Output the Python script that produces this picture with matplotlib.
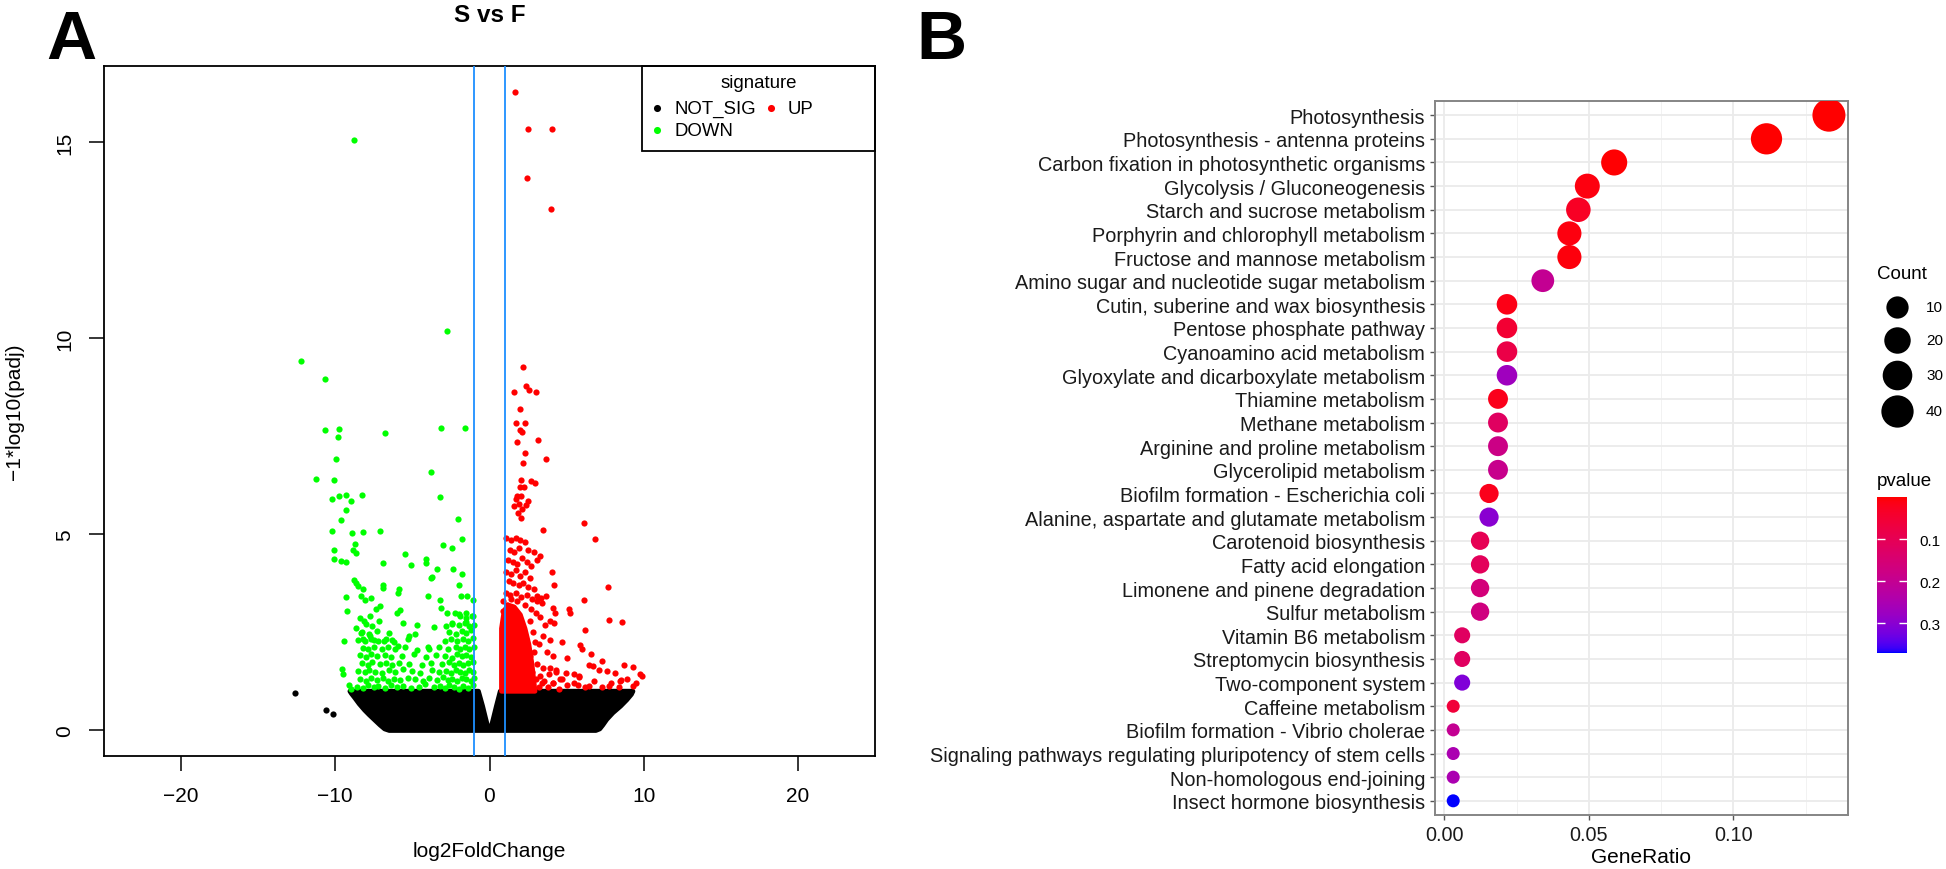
import numpy as np
import matplotlib
matplotlib.use("Agg")
import matplotlib.pyplot as plt
from matplotlib.colors import ListedColormap, Normalize
from matplotlib.patches import Rectangle
from matplotlib.cm import ScalarMappable

plt.rcParams['font.family'] = ['Liberation Sans', 'DejaVu Sans']

W, H = 1946, 870

# ---------------- panel A : volcano (log2FoldChange, -log10(padj)) ----------------
down_points = [
    (-8.81, 15.05), (-2.78, 10.19), (-12.23, 9.42), (-10.64, 8.97),
    (-10.67, 7.66), (-9.77, 7.68), (-9.83, 7.48), (-6.78, 7.60), (-3.16, 7.72), (-1.62, 7.72),
    (-9.94, 6.93), (-11.22, 6.42), (-10.06, 6.38), (-3.80, 6.59),
    (-10.23, 5.91), (-9.74, 5.98), (-9.30, 6.00), (-8.99, 5.85), (-8.26, 6.00), (-9.28, 5.62), (-3.22, 5.95),
    (-9.65, 5.38), (-2.06, 5.40),
    (-10.23, 5.08), (-8.93, 5.04), (-8.20, 5.05), (-7.13, 5.10), (-1.80, 4.89),
    (-8.72, 4.76), (-8.84, 4.60), (-8.64, 4.53), (-10.10, 4.60), (-10.10, 4.38), (-9.65, 4.32), (-9.30, 4.30),
    (-5.45, 4.50), (-3.04, 4.73), (-2.46, 4.66), (-4.09, 4.38), (-4.14, 4.28), (-6.93, 4.28), (-5.10, 4.21),
    (-3.42, 4.12), (-2.35, 4.11), (-3.71, 3.92), (-3.80, 3.88), (-1.80, 3.98),
    (-8.78, 3.85), (-8.64, 3.75), (-8.55, 3.68), (-6.90, 3.70), (-6.92, 3.64), (-5.88, 3.60), (-5.94, 3.51),
    (-1.97, 3.72), (-8.20, 3.60), (-8.35, 3.43), (-8.06, 3.34), (-9.30, 3.41), (-7.71, 3.38), (-4.00, 3.43),
    (-3.22, 3.34), (-1.88, 3.43), (-1.48, 3.43), (-1.04, 3.34),
    (-9.22, 3.04), (-7.33, 3.10), (-7.13, 3.17), (-6.03, 3.00), (-5.83, 3.07), (-3.13, 3.13), (-2.75, 3.00),
    (-2.26, 3.00), (-1.97, 2.96), (-1.54, 3.00), (-1.10, 2.92),
    (-8.12, 2.79), (-7.77, 2.92), (-7.19, 2.79), (-5.59, 2.73), (-4.67, 2.69), (-3.57, 2.64), (-2.84, 2.66),
    (-2.41, 2.73), (-1.54, 2.76), (-8.64, 2.62), (-8.35, 2.49), (-7.77, 2.41), (-8.20, 2.32), (-9.45, 2.28),
    (-7.48, 2.30), (-6.84, 2.28), (-6.32, 2.30), (-5.94, 2.15), (-5.25, 2.42), (-4.81, 2.45), (-4.00, 2.13),
    (-3.91, 2.07), (-9.54, 1.56), (-9.48, 1.43), (-9.13, 1.17), (-9.01, 1.06),
    # dense lower cloud
    (-8.6, 1.12), (-8.2, 1.08), (-7.9, 1.15), (-7.5, 1.10), (-7.2, 1.13), (-6.8, 1.07), (-6.4, 1.16),
    (-6.0, 1.10), (-5.6, 1.14), (-5.1, 1.09), (-4.6, 1.12), (-4.2, 1.18), (-3.6, 1.10), (-3.2, 1.14),
    (-2.9, 1.08), (-2.6, 1.15), (-2.3, 1.11), (-2.0, 1.06), (-1.7, 1.13), (-1.4, 1.09), (-1.1, 1.15),
    (-8.4, 1.31), (-8.0, 1.27), (-7.7, 1.34), (-7.3, 1.29), (-6.9, 1.33), (-6.6, 1.26), (-6.2, 1.32),
    (-5.8, 1.28), (-5.3, 1.35), (-4.8, 1.30), (-4.3, 1.27), (-3.9, 1.33), (-3.4, 1.29), (-3.0, 1.36),
    (-2.7, 1.28), (-2.4, 1.32), (-2.1, 1.27), (-1.8, 1.34), (-1.5, 1.30), (-1.2, 1.26), (-1.0, 1.33),
    (-8.5, 1.52), (-8.1, 1.48), (-7.8, 1.55), (-7.4, 1.50), (-7.0, 1.46), (-6.5, 1.53), (-6.1, 1.49),
    (-5.6, 1.56), (-5.0, 1.51), (-4.5, 1.47), (-3.7, 1.54), (-3.3, 1.49), (-2.8, 1.52), (-2.5, 1.46),
    (-2.2, 1.55), (-1.9, 1.50), (-1.6, 1.47), (-1.3, 1.53), (-1.05, 1.49),
    (-8.3, 1.71), (-7.9, 1.68), (-7.6, 1.74), (-7.1, 1.69), (-6.7, 1.73), (-6.3, 1.67), (-5.9, 1.72),
    (-5.2, 1.70), (-4.4, 1.66), (-3.8, 1.73), (-3.1, 1.69), (-2.6, 1.74), (-2.3, 1.68), (-2.0, 1.72),
    (-1.7, 1.67), (-1.4, 1.71), (-1.1, 1.75),
    (-8.4, 1.92), (-8.0, 1.88), (-7.7, 1.94), (-7.3, 1.89), (-6.8, 1.93), (-6.4, 1.87), (-5.7, 1.91),
    (-4.9, 1.95), (-4.1, 1.88), (-3.5, 1.93), (-2.9, 1.90), (-2.4, 1.86), (-2.1, 1.94), (-1.8, 1.89),
    (-1.5, 1.92), (-1.2, 1.87),
    (-8.2, 2.11), (-7.9, 2.07), (-7.5, 2.13), (-7.0, 2.09), (-6.6, 2.14), (-6.1, 2.08), (-5.5, 2.12),
    (-4.7, 2.06), (-3.3, 2.12), (-2.7, 2.08), (-2.2, 2.14), (-1.9, 2.09), (-1.6, 2.12), (-1.3, 2.07),
    (-1.0, 2.13),
    (-8.5, 2.31), (-8.1, 2.27), (-7.7, 2.34), (-7.2, 2.28), (-6.7, 2.33), (-6.2, 2.26), (-5.3, 2.32),
    (-2.9, 2.29), (-2.5, 2.34), (-2.1, 2.27), (-1.7, 2.32), (-1.4, 2.28), (-1.1, 2.35),
    (-8.3, 2.52), (-7.8, 2.47), (-7.3, 2.54), (-6.5, 2.49), (-2.6, 2.51), (-2.2, 2.46), (-1.8, 2.53),
    (-1.5, 2.48), (-1.2, 2.55),
    (-8.0, 2.71), (-7.6, 2.67), (-2.4, 2.72), (-2.0, 2.68), (-1.6, 2.73), (-1.3, 2.66), (-1.0, 2.70),
    (-8.4, 2.88), (-1.9, 2.91), (-1.5, 2.86), (-1.15, 2.93),
]

up_points = [
    (1.68, 16.29), (2.49, 15.35), (4.03, 15.35), (2.41, 14.10), (4.00, 13.29),
    (2.20, 9.27), (1.62, 8.63), (2.38, 8.78), (2.55, 8.68), (2.99, 8.63), (2.00, 8.19), (1.71, 7.85),
    (2.29, 7.85), (2.00, 7.66), (2.09, 7.62), (1.80, 7.37), (3.13, 7.40),
    (2.32, 7.08), (2.20, 6.83), (3.68, 6.93), (2.03, 6.40), (2.67, 6.36), (2.96, 6.30), (2.00, 6.22),
    (2.26, 6.22), (1.80, 5.98), (2.03, 5.98), (1.71, 5.91), (2.52, 5.85), (1.57, 5.72), (1.94, 5.77),
    (2.38, 5.74), (2.09, 5.64), (1.88, 5.55), (2.03, 5.43), (6.14, 5.28), (6.81, 4.89), (3.48, 5.11),
    (1.1, 4.9), (1.4, 4.85), (1.7, 4.9), (2.0, 4.85), (2.3, 4.8), (1.3, 4.6), (1.6, 4.55), (1.9, 4.65),
    (2.5, 4.6), (2.9, 4.55), (1.2, 4.35), (1.5, 4.3), (1.8, 4.25), (2.1, 4.4), (2.4, 4.3), (2.7, 4.2),
    (3.1, 4.35), (3.3, 4.45), (1.1, 4.05), (1.4, 4.0), (1.7, 4.1), (2.0, 3.95), (2.3, 4.05), (2.6, 3.9),
    (1.25, 3.8), (1.55, 3.75), (1.9, 3.7), (2.2, 3.75), (2.5, 3.65), (2.9, 3.6), (1.05, 3.5), (1.35, 3.45),
    (1.7, 3.5), (2.05, 3.4), (2.4, 3.45), (2.75, 3.35), (3.05, 3.3), (3.4, 3.25), (3.0, 3.0), (3.3, 2.9),
    (3.6, 2.7), (3.5, 2.4), (3.9, 2.3), (3.2, 2.2), (3.7, 2.0), (4.1, 1.9), (3.9, 1.6), (4.3, 1.5),
    (4.6, 1.3), (4.1, 1.2), (3.8, 1.1), (4.5, 1.05), (5.0, 1.15), (5.5, 1.2), (5.8, 1.4), (6.2, 1.1),
    (6.8, 1.25), (7.3, 1.1), (7.9, 1.2), (8.4, 1.1), (8.9, 1.3),
    (4.03, 4.05), (4.20, 3.72), (7.68, 3.66), (3.10, 3.43), (3.33, 3.39), (3.68, 3.43), (6.14, 3.32),
    (4.12, 3.13), (4.26, 3.00), (5.13, 3.10), (5.22, 3.00), (7.74, 2.83), (8.61, 2.76), (3.91, 2.80),
    (4.20, 2.75), (6.20, 2.56), (4.70, 2.25), (5.86, 2.17), (6.00, 2.08), (6.58, 1.96), (5.04, 1.85),
    (7.30, 1.77), (6.43, 1.68), (6.72, 1.64), (8.17, 1.47), (7.65, 1.51), (7.07, 1.54), (8.75, 1.66),
    (9.28, 1.62), (9.77, 1.45), (9.91, 1.40), (4.30, 1.53), (4.96, 1.47), (5.45, 1.43), (5.80, 1.37),
    (3.83, 1.43), (8.55, 1.29), (8.49, 1.25), (9.51, 1.22), (9.30, 1.13), (7.74, 1.13), (6.43, 1.13),
    (5.71, 1.17), (4.70, 1.30), (4.12, 1.22), (3.54, 1.26),
    (2.8, 2.5), (2.6, 2.8), (2.9, 2.0), (3.1, 1.7), (3.3, 1.4), (3.2, 1.1), (3.5, 1.6), (2.7, 3.1),
    (2.3, 3.2), (0.9, 3.3), (1.4, 3.35), (1.8, 3.3), (3.4, 1.2), (3.0, 1.3), (2.95, 2.25), (2.6, 1.9),
    (0.85, 3.05), (1.15, 3.2), (2.75, 1.5),
]
# solid red core just above the cut-off
up_core = [(0.78, 1.0), (0.78, 2.6), (0.95, 3.05), (1.2, 3.2), (1.6, 3.15), (2.0, 2.95), (2.3, 2.6),
           (2.55, 2.2), (2.75, 1.7), (2.95, 1.0)]

ns_points = [(-12.6, 0.96), (-10.58, 0.52), (-10.14, 0.43)]
# outline of the dense NOT_SIG cloud
ns_cloud = [(-9.05, 1.0), (-0.72, 1.0), (-0.45, 0.62), (-0.25, 0.3), (-0.12, 0.1), (0.0, 0.03),
            (0.12, 0.1), (0.25, 0.3), (0.45, 0.62), (0.70, 1.0), (9.3, 1.0), (9.2, 0.92), (8.9, 0.78),
            (8.5, 0.62), (8.0, 0.45), (7.6, 0.28), (7.35, 0.14), (7.15, 0.04), (6.9, 0.0), (-6.5, 0.0),
            (-6.8, 0.04), (-7.1, 0.14), (-7.45, 0.27), (-7.8, 0.4), (-8.1, 0.52), (-8.45, 0.68),
            (-8.75, 0.84), (-8.95, 0.94)]
fc_cut = [-1, 1]

# ---------------- panel B : KEGG enrichment ----------------
pathways = [
    "Photosynthesis", "Photosynthesis - antenna proteins", "Carbon fixation in photosynthetic organisms",
    "Glycolysis / Gluconeogenesis", "Starch and sucrose metabolism", "Porphyrin and chlorophyll metabolism",
    "Fructose and mannose metabolism", "Amino sugar and nucleotide sugar metabolism",
    "Cutin, suberine and wax biosynthesis", "Pentose phosphate pathway", "Cyanoamino acid metabolism",
    "Glyoxylate and dicarboxylate metabolism", "Thiamine metabolism", "Methane metabolism",
    "Arginine and proline metabolism", "Glycerolipid metabolism", "Biofilm formation - Escherichia coli",
    "Alanine, aspartate and glutamate metabolism", "Carotenoid biosynthesis", "Fatty acid elongation",
    "Limonene and pinene degradation", "Sulfur metabolism", "Vitamin B6 metabolism",
    "Streptomycin biosynthesis", "Two-component system", "Caffeine metabolism",
    "Biofilm formation - Vibrio cholerae", "Signaling pathways regulating pluripotency of stem cells",
    "Non-homologous end-joining", "Insect hormone biosynthesis",
]
gene_ratio = [0.1331, 0.1115, 0.0588, 0.0495, 0.0464, 0.0433, 0.0433, 0.0341, 0.0217, 0.0217,
              0.0217, 0.0217, 0.0186, 0.0186, 0.0186, 0.0186, 0.0155, 0.0155, 0.0124, 0.0124,
              0.0124, 0.0124, 0.0062, 0.0062, 0.0062, 0.0031, 0.0031, 0.0031, 0.0031, 0.0031]
counts = [43, 36, 19, 16, 15, 14, 14, 11, 7, 7, 7, 7, 6, 6, 6, 6, 5, 5, 4, 4, 4, 4, 2, 2, 2, 1, 1, 1, 1, 1]
pvalue = [0.0005, 0.001, 0.003, 0.01, 0.03, 0.01, 0.008, 0.2, 0.015, 0.05, 0.08, 0.27, 0.02, 0.12,
          0.18, 0.19, 0.02, 0.3, 0.1, 0.11, 0.16, 0.17, 0.12, 0.12, 0.31, 0.06, 0.2, 0.25, 0.25, 0.37]
count_breaks = [10, 20, 30, 40]
p_breaks = [0.1, 0.2, 0.3]


# red -> blue gradient interpolated in CIELAB (like ggplot's scale_colour_gradient)
M = np.array([[0.4124564, 0.3575761, 0.1804375],
              [0.2126729, 0.7151522, 0.0721750],
              [0.0193339, 0.1191920, 0.9503041]])
WHITE = np.array([0.95047, 1.0, 1.08883])


def to_lab(rgb):
    c = np.asarray(rgb, float)
    lin = np.where(c <= 0.04045, c / 12.92, ((c + 0.055) / 1.055) ** 2.4)
    t = (M @ lin) / WHITE
    f = np.where(t > (6 / 29) ** 3, np.cbrt(t), t / (3 * (6 / 29) ** 2) + 4 / 29)
    return np.array([116 * f[1] - 16, 500 * (f[0] - f[1]), 200 * (f[1] - f[2])])


def from_lab(lab):
    fy = (lab[0] + 16) / 116
    f = np.array([fy + lab[1] / 500, fy, fy - lab[2] / 200])
    t = np.where(f > 6 / 29, f ** 3, 3 * (6 / 29) ** 2 * (f - 4 / 29))
    lin = np.clip(np.linalg.inv(M) @ (t * WHITE), 0, 1)
    c = np.where(lin <= 0.0031308, 12.92 * lin, 1.055 * lin ** (1 / 2.4) - 0.055)
    return np.clip(c, 0, 1)


lab_lo, lab_hi = to_lab([1, 0, 0]), to_lab([0, 0, 1])
cmap = ListedColormap([from_lab((1 - t) * lab_lo + t * lab_hi) for t in np.linspace(0, 1, 256)])
norm = Normalize(min(pvalue), max(pvalue))

cmin, cmax = min(counts), max(counts)


def dot_area(c):
    d_px = 13 + 20 * np.sqrt((np.asarray(c, float) - cmin) / (cmax - cmin))
    return (d_px * 0.72) ** 2


fig = plt.figure(figsize=(W / 100, H / 100), dpi=100)

# ---------------- panel A ----------------
pt = 20
ax = fig.add_axes([104 / W, 1 - 757 / H, (875 - 104) / W, (757 - 67) / H])
ax.fill([p[0] for p in ns_cloud], [p[1] for p in ns_cloud], color='black', lw=3.5, joinstyle='round', zorder=1)
ax.scatter([p[0] for p in ns_points], [p[1] for p in ns_points], s=pt, c='black', lw=0, zorder=2)
ax.scatter([p[0] for p in down_points], [p[1] for p in down_points], s=pt, c='#00ff00', lw=0, zorder=2)
ax.fill([p[0] for p in up_core], [p[1] for p in up_core], color='#ff0000', lw=3.5, joinstyle='round', zorder=2)
ax.scatter([p[0] for p in up_points], [p[1] for p in up_points], s=pt, c='#ff0000', lw=0, zorder=2)
for v in fc_cut:
    ax.axvline(v, color='#1e8fff', lw=1.3, zorder=3)

ax.set_xlim(-25, 25)
ax.set_ylim(-0.652, 16.95)
ax.set_xticks([-20, -10, 0, 10, 20])
ax.set_yticks([0, 5, 10, 15])
ax.tick_params(labelsize=15, length=10.5, width=1.1, pad=11)
plt.setp(ax.get_yticklabels(), rotation=90, va='center')
for s in ax.spines.values():
    s.set_linewidth(1.3)
ax.set_xlabel('log2FoldChange', fontsize=15)
ax.xaxis.set_label_coords(0.5, -(852 - 757) / 690)
ax.xaxis.label.set_va('center')
ax.set_ylabel('\u22121*log10(padj)', fontsize=15)
ax.yaxis.set_label_coords(-(104 - 15) / 771, 0.5)
ax.yaxis.label.set_va('center')

# ---------------- panel B ----------------
n = len(pathways)
ypos = np.arange(n, 0, -1)
axb = fig.add_axes([1435 / W, 1 - 816 / H, 413 / W, 714 / H])
axb.scatter(gene_ratio, ypos, s=dot_area(counts), c=pvalue, cmap=cmap, norm=norm, lw=0, zorder=3)
axb.set_xlim(-0.0032, 0.1397)
axb.set_ylim(0.4, n + 0.6)
axb.set_xticks([0.0, 0.05, 0.10])
axb.set_xticklabels(['0.00', '0.05', '0.10'])
axb.set_xticks([0.025, 0.075, 0.125], minor=True)
axb.set_yticks(ypos)
axb.set_yticklabels(pathways)
axb.grid(which='major', color='#ebebeb', lw=1.3, zorder=0)
axb.grid(which='minor', axis='x', color='#f2f2f2', lw=0.7, zorder=0)
axb.set_axisbelow(True)
axb.tick_params(which='major', labelsize=14.3, length=3.6, width=1.0, color='#555555', pad=3.5,
                labelcolor='#1a1a1a')
axb.tick_params(which='minor', length=0)
for s in axb.spines.values():
    s.set_color('#858585')
    s.set_linewidth(1.4)
axb.set_xlabel('GeneRatio', fontsize=15)
axb.xaxis.set_label_coords(0.5, -(858 - 816) / 714)
axb.xaxis.label.set_va('center')

# pvalue colourbar (small p on top)
cax = fig.add_axes([1877 / W, 1 - 654 / H, 30 / W, 156 / H])
cb = fig.colorbar(ScalarMappable(norm=norm, cmap=cmap), cax=cax, ticks=p_breaks)
cb.outline.set_visible(False)
cax.invert_yaxis()
cax.tick_params(direction='in', color='white', length=6, width=1, left=True, right=True,
                labelsize=11, pad=9)

# ---------------- overlay for titles and legends ----------------
ov = fig.add_axes([0, 0, 1, 1])
ov.set_xlim(0, W)
ov.set_ylim(H, 0)
ov.axis('off')
ov.patch.set_alpha(0)

ov.text(46, 59, 'A', fontsize=50, fontweight='bold', ha='left', va='baseline')
ov.text(916, 59, 'B', fontsize=50, fontweight='bold', ha='left', va='baseline')
ov.text(490, 22, 'S vs F', fontsize=17.5, fontweight='bold', ha='center', va='baseline')

# signature legend
ov.add_patch(Rectangle((642, 67), 875 - 642, 152 - 67, fill=False, ec='black', lw=1.3))
ov.text(759, 83, 'signature', fontsize=13.4, ha='center', va='center')
sig_keys = [('NOT_SIG', 'black', 657, 109), ('UP', '#ff0000', 771, 109), ('DOWN', '#00ff00', 657, 131)]
for lab, col, kx, ky in sig_keys:
    ov.scatter([kx], [ky], s=26, c=col, lw=0)
    ov.text(kx + 17, ky, lab, fontsize=13.4, ha='left', va='center')

# Count legend
ov.text(1877, 275, 'Count', fontsize=13.5, ha='left', va='center')
for b, ky in zip(count_breaks, [308, 341, 376, 412]):
    ov.scatter([1897], [ky], s=dot_area(b), c='black', lw=0)
    ov.text(1926, ky, str(b), fontsize=11, ha='left', va='center')
ov.text(1877, 482, 'pvalue', fontsize=13.5, ha='left', va='center')

fig.savefig('out.png', dpi=100)
